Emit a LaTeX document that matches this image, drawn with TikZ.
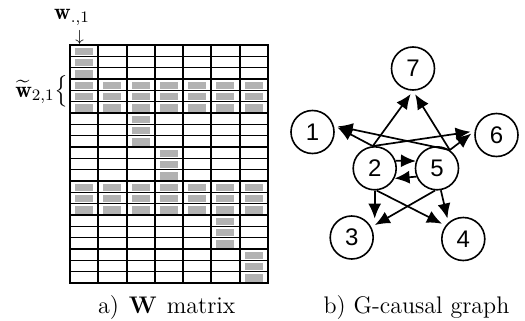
\documentclass[tikz,border=0pt]{standalone}
\usepackage{fontspec}
\usepackage{amsmath}
\usepackage{graphicx}
\usetikzlibrary{arrows.meta}
\newfontfamily\graphfont{Liberation Sans}
\definecolor{cellgray}{RGB}{178,178,178}
\tikzset{
  gnode/.style={circle, draw, line width=0.8pt, minimum size=21.5pt, inner sep=0pt,
    font=\graphfont\fontsize{12}{14}\selectfont},
  garrow/.style={line width=0.85pt, -{Latex[length=7.5pt,width=6.5pt]}, shorten >=2pt},
  thinrule/.style={line width=0.6pt},
  thickrule/.style={line width=1.1pt},
  vrule/.style={line width=1pt},
  captionlabel/.style={font=\fontsize{12}{14}\selectfont, anchor=base, inner sep=0pt},
  mathlabel/.style={font=\fontsize{11.5}{13}\selectfont, inner sep=0pt}
}
\begin{document}
\begin{tikzpicture}[x=0.5pt,y=-0.5pt]
\useasboundingbox (0,0) rectangle (525,321);
% gray cells
\foreach \g in {0,...,6}{
  \foreach \c in {0,...,6}{
    \pgfmathtruncatemacro\on{((\g==\c)||(\g==1)||(\g==4))?1:0}
    \ifnum\on=1
      \foreach \r in {0,1,2}{
        \fill[cellgray] ({70+\c*28.2857+5},{45+(3*\g+\r)*11.3333+2.8}) rectangle ++(18,7.3);
      }
    \fi
  }
}
% horizontal rules
\foreach \k in {0,...,21}{
  \pgfmathtruncatemacro\m{mod(\k,3)}
  \ifnum\m=0
    \draw[thickrule] (70,{45+\k*11.3333}) -- (268,{45+\k*11.3333});
  \else
    \draw[thinrule] (70,{45+\k*11.3333}) -- (268,{45+\k*11.3333});
  \fi
}
% vertical rules
\foreach \j in {0,...,7}{
  \draw[vrule] ({70+\j*28.2857},44.4) -- ({70+\j*28.2857},283.6);
}
% labels
\node[mathlabel, anchor=base] (wcol) at (72,19) {$\mathbf{w}_{.,1}$};
\node[mathlabel, font=\fontsize{8.5}{10}\selectfont] (warr) at (79.5,37) {$\downarrow$};
\node[mathlabel, anchor=base east] (wrow) at (69,97) {$\widetilde{\mathbf{w}}_{2,1}\vcenter{\hbox{\scalebox{1}[1.1]{$\big\{$}}}$};
% captions
\node[captionlabel] (capa) at (166.7,313) {a)\hspace{5pt}\textbf{W}\hspace{5pt}matrix};
\node[captionlabel] (capb) at (416.5,313) {b) G-causal graph};
% graph
\node[gnode] (n7) at (413,68.5) {7};
\node[gnode] (n1) at (312.5,132) {1};
\node[gnode] (n6) at (496.5,135) {6};
\node[gnode] (n2) at (374.7,168.3) {2};
\node[gnode] (n5) at (437,168.3) {5};
\node[gnode] (n3) at (351.7,237.5) {3};
\node[gnode] (n4) at (463.3,239) {4};
\draw[garrow] (n2.95) -- (n7.south);
\draw[garrow] (n5.55) -- (n7.south);
\draw[garrow] (n2.95) -- (n1.17);
\draw[garrow] (n5.55) -- (n1.17);
\draw[garrow] (n2.95) -- (n6.170);
\draw[garrow] (n5.55) -- (n6.170);
\draw[garrow, shorten >=0pt] (n2.20) -- (n5.161);
\draw[garrow, shorten >=0pt] (n5.-158) -- (n2.-27);
\draw[garrow] (n2.south) -- (n2.south |- n3.42);
\draw[garrow] (n5.-95) -- (n3.28);
\draw[garrow] (n2.-85) -- (n4.143);
\draw[garrow] (n5.-80) -- (n4.132);
\end{tikzpicture}
\end{document}
